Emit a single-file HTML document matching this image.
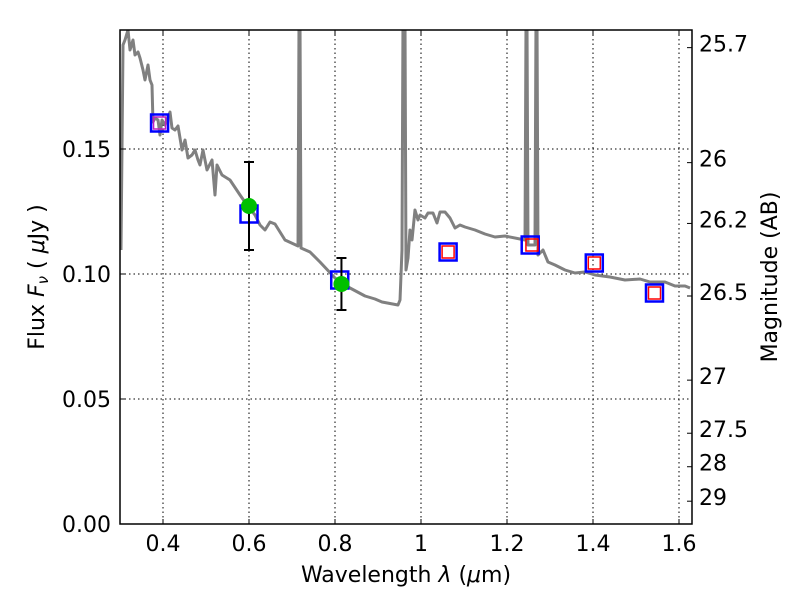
<!DOCTYPE html>
<html><head><meta charset="utf-8"><style>
body{margin:0;background:#fff;}
svg text{font-family:"DejaVu Sans","Liberation Sans",sans-serif;font-size:22px;fill:#000;}
</style></head><body>
<svg id="chart" width="800" height="600" xmlns="http://www.w3.org/2000/svg">
<rect width="800" height="600" fill="#fff"/>
<g id="grid"></g>
<g id="spec"></g>
<g id="marks"></g>
<g id="axes"></g>
<text x="406" y="582" text-anchor="middle">Wavelength  <tspan font-style="italic">λ</tspan> (<tspan font-style="italic">μ</tspan>m)</text>
<text transform="translate(44,277) rotate(-90)" text-anchor="middle">Flux  <tspan font-style="italic">F<tspan font-size="15" dy="4">ν</tspan></tspan><tspan dy="-4">  ( </tspan><tspan font-style="italic">μ</tspan>Jy )</text>
<text transform="translate(777,277) rotate(-90)" text-anchor="middle">Magnitude (AB)</text>
</svg>
<script>
const xTicks=[0.4,0.6,0.8,1.0,1.2,1.4,1.6];
const xTickLabels=["0.4","0.6","0.8","1","1.2","1.4","1.6"];
const yTicks=[0,0.05,0.10,0.15];
const yTickLabels=["0.00","0.05","0.10","0.15"];
const magTicks=[25.7,26,26.2,26.5,27,27.5,28,29];
const magTickLabels=["25.7","26","26.2","26.5","27","27.5","28","29"];
const specPx=[[121,250],[123,45],[125,40],[128,30],[130,50],[133,40],[135,55],[138,52],[140,58],[143,70],[145,80],[148,65],[150,80],[152,85],[153,122],[155,118],[158,120],[160,135],[162,120],[165,125],[170,112],[172,128],[175,130],[178,126],[182,150],[185,140],[188,158],[192,155],[195,150],[198,160],[200,165],[203,150],[207,170],[212,160],[215,195],[217,165],[222,175],[230,180],[240,195],[247,205],[255,215],[260,225],[265,230],[270,222],[275,224],[285,240],[298,246],[299,20],[300,20],[301,248],[310,252],[320,262],[335,278],[350,288],[365,296],[375,299],[382,302],[398,305],[400,300],[402,250],[403,20],[405,20],[406,270],[408,258],[410,230],[412,240],[415,210],[418,220],[420,215],[425,218],[428,213],[433,213],[437,223],[440,212],[445,212],[450,218],[455,228],[460,225],[465,227],[475,230],[485,234],[495,237],[505,236],[525,240],[526,20],[527,20],[528,245],[535,245],[536,20],[537,20],[538,255],[543,250],[548,262],[555,265],[565,270],[575,273],[585,272],[595,275],[610,277],[625,280],[640,279],[650,282],[665,282],[675,286],[685,286],[690,288]];
const specLam=specPx.map(p=>+(0.3+(p[0]-120)/430).toFixed(4));
const specFlux=specPx.map(p=>+((524-p[1])/2500).toFixed(4));
const modelLam=[0.392,0.600,0.811,1.063,1.254,1.403,1.543];
const modelFlux=[0.1604,0.1240,0.0976,0.1088,0.1116,0.1044,0.0924];
const synthLam=[0.392,1.063,1.258,1.403,1.543];
const synthFlux=[0.1604,0.1088,0.1116,0.1044,0.0924];
const obsLam=[0.6,0.815];
const obsFlux=[0.1272,0.0960];
const obsErr=[0.0176,0.0104];

const L=120,R=692,T=30,B=524;
const X=v=>L+(v-0.3)*430;
const Y=v=>B-v*2500;
const magY=m=>Y(Math.pow(10,(23.9-m)/2.5));
const NS="http://www.w3.org/2000/svg";
function mk(parent,tag,attrs){const e=document.createElementNS(NS,tag);for(const k in attrs)e.setAttribute(k,attrs[k]);document.getElementById(parent).appendChild(e);return e;}

xTicks.forEach((t,i)=>{
  const g=mk('grid','line',{x1:X(t),x2:X(t),y1:T,y2:B,stroke:'#000','stroke-dasharray':'1.5,3','stroke-width':1});
  
  
  const tk=mk('axes','line',{x1:X(t),x2:X(t),y1:B,y2:B-5,stroke:'#000'});
  
  
  const tk2=mk('axes','line',{x1:X(t),x2:X(t),y1:T,y2:T+5,stroke:'#000'});
  
  
  const lb=mk('axes','text',{x:X(t),y:B+27,'text-anchor':'middle'});lb.textContent=xTickLabels[i];
  
  
});
yTicks.forEach((t,i)=>{
  const g=mk('grid','line',{x1:L,x2:R,y1:Y(t),y2:Y(t),stroke:'#000','stroke-dasharray':'1.5,3','stroke-width':1});
  
  
  const tk=mk('axes','line',{x1:L,x2:L+5,y1:Y(t),y2:Y(t),stroke:'#000'});
  
  
  const lb=mk('axes','text',{x:L-9,y:Y(t)+8,'text-anchor':'end'});lb.textContent=yTickLabels[i];
  
  
});
magTicks.forEach((m,i)=>{
  const y=magY(m);
  const tk=mk('axes','line',{x1:R-5,x2:R,y1:y,y2:y,stroke:'#000'});
  
  
  const lb=mk('axes','text',{x:R+7,y:y+4,'text-anchor':'start'});lb.textContent=magTickLabels[i];
  
  
});
const cp=mk('spec','clipPath',{id:'clip'});
const cr=document.createElementNS(NS,'rect');cr.setAttribute('x',L);cr.setAttribute('y',T);cr.setAttribute('width',R-L);cr.setAttribute('height',B-T);cp.appendChild(cr);
const sp=mk('spec','polyline',{points:specLam.map((l,i)=>X(l)+','+Y(specFlux[i])).join(' '),fill:'none',stroke:'#808080','stroke-width':3,'stroke-linejoin':'round','clip-path':'url(#clip)'});



modelLam.forEach((l,i)=>{
  const s=mk('marks','rect',{x:X(l)-8.5,y:Y(modelFlux[i])-8.5,width:17,height:17,fill:'none',stroke:'#0000ff','stroke-width':2.5});
  
  
});
synthLam.forEach((l,i)=>{
  const s=mk('marks','rect',{x:X(l)-6,y:Y(synthFlux[i])-6,width:12,height:12,fill:'none',stroke:i===0?'#c020c0':'#ff0000','stroke-width':1.5});
  
  
});
obsLam.forEach((l,i)=>{
  const x=X(l),y1=Y(obsFlux[i]-obsErr[i]),y2=Y(obsFlux[i]+obsErr[i]);
  const e=mk('marks','path',{d:`M${x},${y1}V${y2}M${x-5},${y1}H${x+5}M${x-5},${y2}H${x+5}`,stroke:'#000','stroke-width':2,fill:'none'});
  
  
  const c=mk('marks','circle',{cx:x,cy:Y(obsFlux[i]),r:8,fill:'#00c000'});
  
  
});
const fr=mk('axes','rect',{x:L,y:T,width:R-L,height:B-T,fill:'none',stroke:'#000','stroke-width':1.5});


</script>
</body></html>
